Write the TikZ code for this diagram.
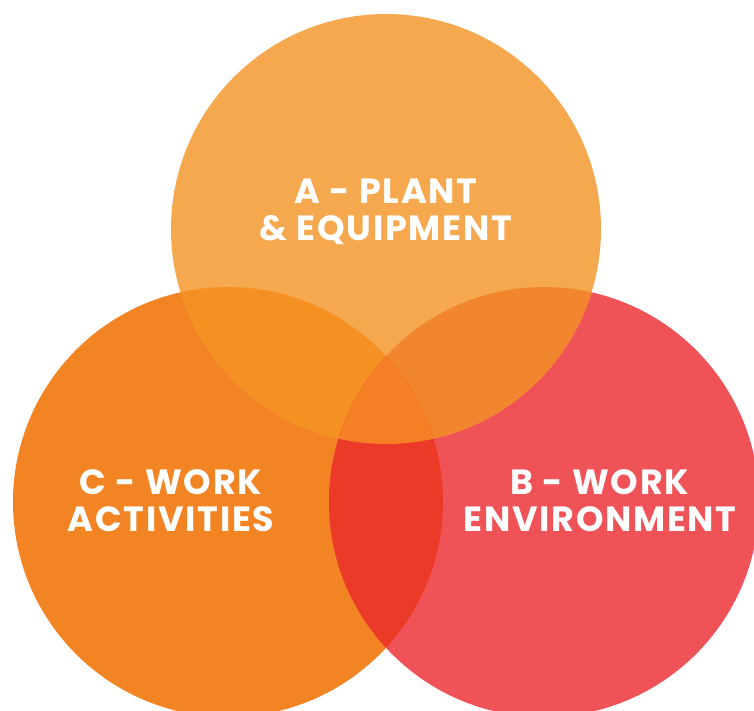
\documentclass[tikz,border=0pt]{standalone}
\usepackage{fontspec}
\setmainfont{Poppins}[LetterSpace=5.0]
\definecolor{plantcol}{HTML}{F6A84F}
\definecolor{activcol}{HTML}{F38424}
\definecolor{envcol}{HTML}{EF5257}
\definecolor{acol}{HTML}{F59122}
\definecolor{abcol}{HTML}{F2862E}
\definecolor{bccol}{HTML}{EC3A29}
\definecolor{allcol}{HTML}{F47F24}
\tikzset{
  label text/.style={text=white, font=\bfseries\fontsize{35}{37}\selectfont, align=center, inner sep=0pt},
}
\begin{document}
\begin{tikzpicture}[x=1pt, y=-1pt]
  \useasboundingbox (0,0) rectangle (754,710);
  \clip (0,0) rectangle (754,710);
  \def\R{215}
  \coordinate (cA) at (386,229);
  \coordinate (cC) at (228,502);
  \coordinate (cB) at (544,502);
  % base discs
  \fill[activcol] (cC) circle[radius=\R];
  \fill[envcol] (cB) circle[radius=\R];
  \fill[plantcol] (cA) circle[radius=\R];
  % pairwise overlaps
  \begin{scope}
    \clip (cA) circle[radius=\R];
    \fill[acol] (cC) circle[radius=\R];
  \end{scope}
  \begin{scope}
    \clip (cA) circle[radius=\R];
    \fill[abcol] (cB) circle[radius=\R];
  \end{scope}
  \begin{scope}
    \clip (cB) circle[radius=\R];
    \fill[bccol] (cC) circle[radius=\R];
  \end{scope}
  % triple overlap
  \begin{scope}
    \clip (cA) circle[radius=\R];
    \clip (cB) circle[radius=\R];
    \fill[allcol] (cC) circle[radius=\R];
  \end{scope}
  % labels
  \node[label text] (tA) at (386,212) {A - PLANT\\\& EQUIPMENT};
  \node[label text] (tC) at (171,501) {C - WORK\\ACTIVITIES};
  \node[label text] (tB) at (600,501) {B - WORK\\ENVIRONMENT};
\end{tikzpicture}
\end{document}
